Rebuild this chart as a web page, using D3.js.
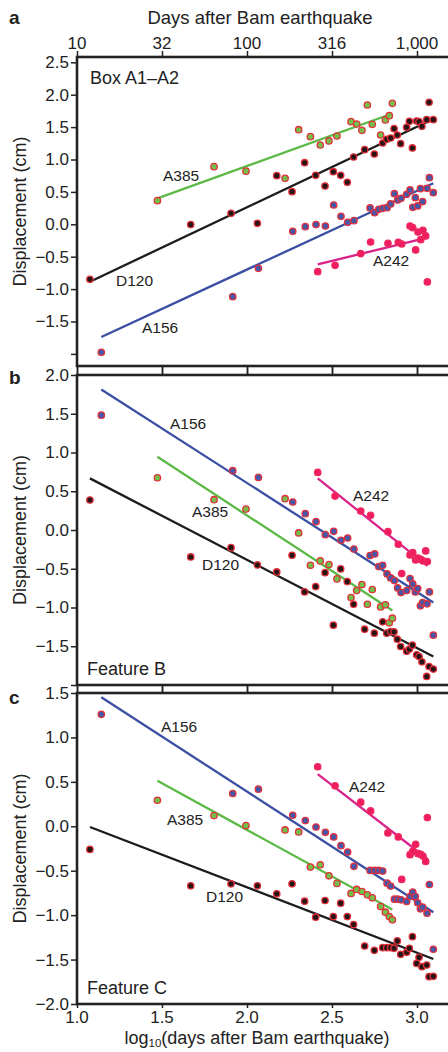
<!DOCTYPE html>
<html>
<head>
<meta charset="utf-8">
<script src="https://cdn.jsdelivr.net/npm/d3@7"></script>
<style>
  body { margin: 0; background: #fff; }
  svg { display: block; font-family: "Liberation Sans", Arial, sans-serif; }
</style>
</head>
<body>
<svg id="chart" width="448" height="1052"></svg>
<script>
/* series order: D120, A385, A156, A242 */
const seriesNames = ["D120", "A385", "A156", "A242"];

/* acquisition dates, log10(days after Bam earthquake) */
const datesD120 = [1.076, 1.669, 1.906, 2.061, 2.175, 2.265, 2.339, 2.404, 2.459, 2.508, 2.551, 2.590, 2.627, 2.692, 2.749, 2.798, 2.822, 2.845, 2.865, 2.884, 2.904, 2.939, 2.955, 2.973, 2.998, 3.012, 3.029, 3.057, 3.071, 3.096];
const datesA385 = [1.473, 1.806, 1.994, 2.224, 2.304, 2.373, 2.431, 2.482, 2.529, 2.612, 2.645, 2.676, 2.708, 2.737, 2.786, 2.814, 2.837, 2.855];
const datesA156 = [1.143, 1.916, 2.067, 2.269, 2.343, 2.406, 2.461, 2.510, 2.553, 2.592, 2.629, 2.724, 2.751, 2.775, 2.798, 2.824, 2.845, 2.867, 2.886, 2.906, 2.939, 2.959, 2.975, 2.990, 3.004, 3.020, 3.033, 3.059, 3.073, 3.096];
const datesA242 = [2.416, 2.518, 2.669, 2.727, 2.829, 2.890, 2.910, 2.959, 2.975, 2.992, 3.006, 3.022, 3.035, 3.051, 3.061];

/* panel a: Box A1-A2 displacement (cm) */
const aD120 = [-0.85, -0.005, 0.17, 0.015, 0.751, 0.504, 0.951, 0.756, 0.591, 0.812, 0.756, 0.648, 1.039, 1.152, 1.085, 1.255, 1.311, 1.332, 1.476, 1.378, 1.245, 1.497, 1.589, 1.178, 1.594, 1.584, 1.512, 1.615, 1.882, 1.615];
const aA385 = [0.365, 0.89, 0.82, 0.71, 1.46, 1.353, 1.224, 1.286, 1.363, 1.584, 1.548, 1.45, 1.841, 1.543, 1.378, 1.61, 1.677, 1.867];
const aA156 = [-1.975, -1.117, -0.68, -0.108, -0.036, -0.005, -0.026, 0.298, 0.123, 0.03, 0.056, 0.252, 0.18, 0.231, 0.247, 0.257, 0.314, 0.473, 0.375, 0.401, 0.463, 0.53, 0.262, 0.411, 0.283, 0.55, 0.35, 0.555, 0.72, 0.488];
const aA242 = [-0.731, -0.633, -0.453, -0.273, -0.294, -0.278, -0.304, -0.026, -0.052, -0.396, -0.119, -0.237, -0.093, -0.18, -0.89];
/* fitted line values at first and last date */
const aFit = [[-0.886, 1.625], [0.40, 1.71], [-1.74, 0.634], [-0.617, -0.207]];

/* panel b: Feature B */
const bD120 = [0.387, -0.348, -0.228, -0.451, -0.541, -0.326, -0.799, -0.73, -0.55, -1.228, -0.502, -0.666, -0.958, -1.28, -1.331, -1.185, -1.331, -1.31, -1.314, -1.409, -1.503, -1.563, -1.537, -1.486, -1.611, -1.632, -1.701, -1.89, -1.761, -1.795];
const bA385 = [0.674, 0.391, 0.27, 0.404, -0.038, -0.455, -0.399, -0.446, -0.631, -0.872, -0.782, -0.704, -0.958, -0.769, -0.992, -0.966, -1.198, -1.138];
const bA156 = [1.482, 0.765, 0.679, 0.361, 0.211, 0.108, -0.06, -0.017, -0.133, -0.103, -0.245, -0.33, -0.309, -0.472, -0.455, -0.567, -0.618, -0.653, -0.747, -0.807, -0.782, -0.627, -0.696, -0.799, -0.756, -0.979, -0.936, -0.953, -0.799, -1.357];
const bA242 = [0.743, 0.438, 0.245, 0.189, -0.021, -0.184, -0.562, -0.322, -0.292, -0.386, -0.361, -0.378, -0.399, -0.27, -0.408];
const bFit = [[0.666, -1.632], [0.945, -1.039], [1.813, -0.936], [0.666, -0.464]];

/* panel c: Feature C */
const cD120 = [-0.26, -0.67, -0.647, -0.67, -0.76, -0.647, -0.843, -1.023, -0.835, -1.016, -0.865, -1.016, -1.106, -1.347, -1.396, -1.366, -1.366, -1.366, -1.373, -1.29, -1.441, -1.418, -1.373, -1.242, -1.543, -1.475, -1.58, -1.561, -1.693, -1.689];
const cA385 = [0.293, 0.12, 0.008, -0.041, -0.064, -0.459, -0.433, -0.557, -0.643, -0.756, -0.711, -0.734, -0.771, -0.805, -0.903, -0.967, -1.016, -1.053];
const cA156 = [1.26, 0.369, 0.418, 0.124, 0.064, -0.008, -0.068, -0.12, -0.218, -0.29, -0.451, -0.497, -0.497, -0.497, -0.504, -0.64, -0.673, -0.82, -0.82, -0.828, -0.846, -0.79, -0.741, -0.79, -0.861, -0.929, -0.91, -0.978, -0.655, -1.384];
const cA242 = [0.67, 0.455, 0.271, 0.173, -0.075, -0.12, -0.598, -0.32, -0.282, -0.203, -0.308, -0.316, -0.335, -0.395, 0.098];
const cFit = [[-0.008, -1.494], [0.512, -0.937], [1.452, -0.967], [0.587, -0.365]];

/* axis ticks */
const topTickValues = [1, 1.5, 2, 2.5, 3];
const topTickLabels = ["10", "32", "100", "316", "1,000"];
const bottomTickValues = [1.0, 1.5, 2.0, 2.5, 3.0];
const aYTicks = [2.5, 2.0, 1.5, 1.0, 0.5, 0.0, -0.5, -1.0, -1.5, -2.0];
const bYTicks = [2.0, 1.5, 1.0, 0.5, 0.0, -0.5, -1.0, -1.5, -2.0];
const cYTicks = [1.5, 1.0, 0.5, 0.0, -0.5, -1.0, -1.5, -2.0];

const dates = [datesD120, datesA385, datesA156, datesA242];

/* styles */
const lineColors = ["#1c1c1c", "#5cb947", "#3b4fa2", "#d9238a"];
const fillColors = ["#261416", "#74bf4b", "#4856a8", "#ef1c62"];
const strokeColors = ["#e2303a", "#e2303a", "#e2303a", "#ef2a5e"];
const ink = "#222";

const svg = d3.select("#chart");
const left = 77, right = 451;

const xScale = d3.scaleLinear().domain([1, 3.2]).range([left, right]);

const fmt = d3.format(".1f");

const drawPanel = (p) => {
  const yScale = d3.scaleLinear().domain(p.domain).range([p.bottom, p.top]);
  const g = svg.append("g");

  /* fitted lines */
  p.fit.forEach((f, i) => {
    const d = dates[i];
    g.append("line")
      .attr("x1", xScale(d[0]))
      .attr("y1", yScale(f[0]))
      .attr("x2", xScale(d[d.length - 1]))
      .attr("y2", yScale(f[1]))
      .attr("stroke", lineColors[i])
      .attr("stroke-width", 2.3);
  });

  /* points */
  p.values.forEach((vals, i) => {
    g.append("g")
      .selectAll("circle")
      .data(vals)
      .enter()
      .append("circle")
      .attr("cx", (v, j) => xScale(dates[i][j]))
      .attr("cy", (v) => yScale(v))
      .attr("r", 3.2)
      .attr("fill", fillColors[i])
      .attr("stroke", strokeColors[i])
      .attr("stroke-width", 1.3);
  });

  /* y axis */
  const yAxis = d3
    .axisLeft(yScale)
    .tickValues(p.yTicks)
    .tickSize(6)
    .tickSizeOuter(0)
    .tickPadding(2)
    .tickFormat((v) => (p.hideLabel.includes(v) ? "" : fmt(v)));
  const ya = g.append("g").attr("transform", `translate(${left},0)`).call(yAxis);
  ya.select(".domain").remove();
  ya.selectAll("line").attr("stroke", ink).attr("stroke-width", 1.5);
  ya.selectAll("text").attr("fill", ink).style("font-size", "17px");

  /* ticks on top and bottom edges */
  const topAxis = d3.axisTop(xScale).tickValues(topTickValues).tickSize(p.topTick).tickFormat("");
  const ta = g.append("g").attr("transform", `translate(0,${p.top})`).call(topAxis);
  ta.select(".domain").remove();
  ta.selectAll("line").attr("stroke", ink).attr("stroke-width", 1.5);

  const bottomAxis = d3.axisBottom(xScale).tickValues(bottomTickValues).tickSize(p.bottomTick).tickFormat("");
  const ba = g.append("g").attr("transform", `translate(0,${p.bottom})`).call(bottomAxis);
  ba.select(".domain").remove();
  ba.selectAll("line").attr("stroke", ink).attr("stroke-width", 1.5);

  /* frame */
  g.append("rect")
    .attr("x", left)
    .attr("y", p.top)
    .attr("width", right - left)
    .attr("height", p.bottom - p.top)
    .attr("fill", "none")
    .attr("stroke", ink)
    .attr("stroke-width", 2.6);

  /* series labels */
  p.labels.forEach((l) => {
    g.append("text")
      .attr("x", l[1])
      .attr("y", l[2])
      .attr("fill", ink)
      .style("font-size", l[3] || "15.5px")
      .text(l[0]);
  });

  /* panel letter */
  svg.append("text")
    .attr("x", 9)
    .attr("y", p.letterY)
    .attr("fill", ink)
    .style("font-size", "19px")
    .style("font-weight", "700")
    .text(p.letter);

  /* y axis title */
  svg.append("text")
    .attr("transform", `translate(26,${(p.top + p.bottom) / 2}) rotate(-90)`)
    .attr("text-anchor", "middle")
    .attr("fill", ink)
    .style("font-size", "18px")
    .text("Displacement (cm)");
};

drawPanel({
  letter: "a", letterY: 24,
  top: 57, bottom: 366, domain: [-2.187, 2.582],
  yTicks: aYTicks, hideLabel: [-2.0],
  topTick: 6, bottomTick: 8,
  values: [aD120, aA385, aA156, aA242], fit: aFit,
  labels: [["Box A1\u2013A2", 90, 83.5, "18px"], ["A385", 163, 181], ["D120", 116, 286], ["A156", 142, 333], ["A242", 373, 266]]
});

drawPanel({
  letter: "b", letterY: 384,
  top: 375, bottom: 685, domain: [-2, 2],
  yTicks: bYTicks, hideLabel: [-2.0],
  topTick: 8, bottomTick: 8,
  values: [bD120, bA385, bA156, bA242], fit: bFit,
  labels: [["A156", 170, 429], ["A385", 192, 517], ["D120", 202, 570], ["Feature B", 87, 675, "18px"], ["A242", 353, 501]]
});

drawPanel({
  letter: "c", letterY: 704,
  top: 693, bottom: 1004, domain: [-2, 1.5],
  yTicks: cYTicks, hideLabel: [],
  topTick: 8, bottomTick: 4,
  values: [cD120, cA385, cA156, cA242], fit: cFit,
  labels: [["A156", 161, 732], ["A385", 167, 825], ["D120", 206, 902], ["Feature C", 87, 994, "18px"], ["A242", 349, 792]]
});

/* top axis labels (days) */
svg.append("g")
  .selectAll("text")
  .data(topTickValues)
  .enter()
  .append("text")
  .attr("x", (d) => xScale(d))
  .attr("y", 49)
  .attr("text-anchor", "middle")
  .attr("fill", ink)
  .style("font-size", "17px")
  .text((d, i) => topTickLabels[i]);

svg.append("text")
  .attr("x", 260)
  .attr("y", 24)
  .attr("text-anchor", "middle")
  .attr("fill", ink)
  .style("font-size", "18.5px")
  .text("Days after Bam earthquake");

/* bottom axis labels */
svg.append("g")
  .selectAll("text")
  .data(bottomTickValues)
  .enter()
  .append("text")
  .attr("x", (d) => xScale(d))
  .attr("y", 1023)
  .attr("text-anchor", "middle")
  .attr("fill", ink)
  .style("font-size", "17px")
  .text((d) => fmt(d));

const xTitle = svg.append("text")
  .attr("x", 257)
  .attr("y", 1044)
  .attr("text-anchor", "middle")
  .attr("fill", ink)
  .style("font-size", "18px");
xTitle.append("tspan").text("log");
xTitle.append("tspan").attr("dy", 3).style("font-size", "11.5px").text("10");
xTitle.append("tspan").attr("dy", -3).text("(days after Bam earthquake)");
</script>
</body>
</html>
